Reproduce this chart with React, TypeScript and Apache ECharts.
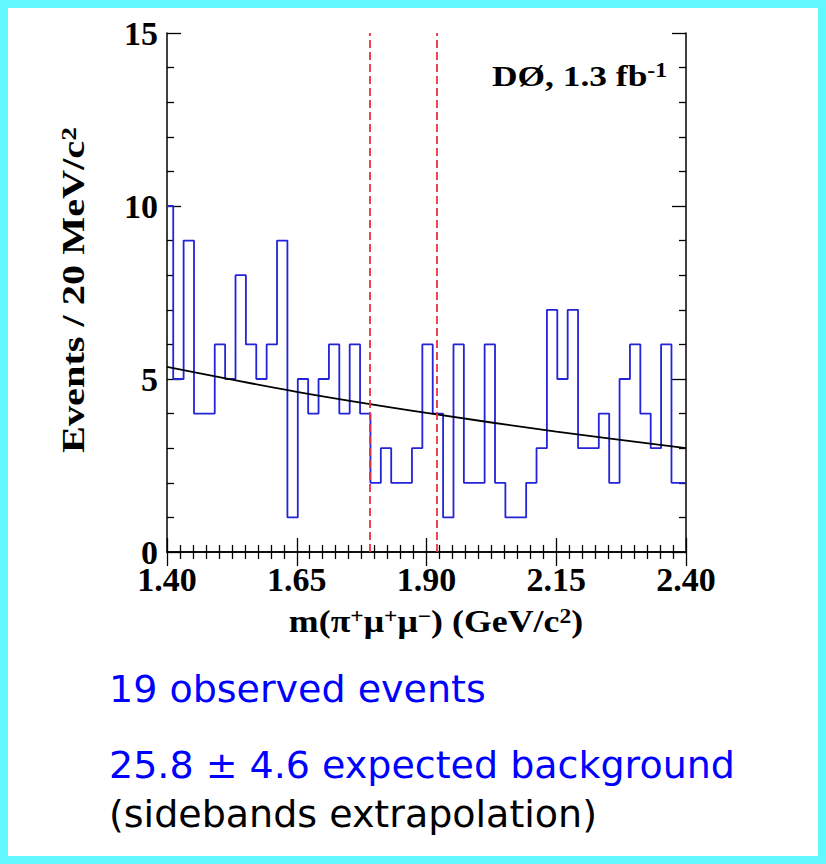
import React, { useEffect, useRef } from "react";
import * as echarts from "echarts";

// Histogram: events per 20 MeV/c^2 bin (bin lower edges start at 1.392, clipped to axis range)
const binStart = 1.392;
const binWidth = 0.02;
const counts = [
  10, 5, 9, 4, 4, 6, 5, 8, 6, 5,
  6, 9, 1, 5, 4, 5, 6, 4, 6, 4,
  2, 3, 2, 2, 3, 6, 4, 1, 6, 2,
  2, 6, 2, 1, 1, 2, 3, 7, 5, 7,
  3, 3, 4, 2, 5, 6, 4, 3, 6, 2,
  2,
];

// Background fit curve
const fitX = [1.4, 1.65, 1.9, 2.15, 2.4];
const fitY = [5.35, 4.63, 4.02, 3.48, 3.0];

// Signal window (red dashed lines)
const windowEdges = [1.786, 1.921];

const xMin = 1.4;
const xMax = 2.4;
const xTickStep = 0.25;
const yMin = 0;
const yMax = 15;
const yTickStep = 5;

const serif = "'Liberation Serif', 'Times New Roman', serif";
const sans = "'DejaVu Sans', sans-serif";

export default function App() {
  const ref = useRef<HTMLDivElement>(null);

  useEffect(() => {
    if (!ref.current) return;
    const chart = echarts.init(ref.current, undefined, { renderer: "svg" });

    const histData: number[][] = counts.map((c, i) => [
      Math.max(xMin, +(binStart + i * binWidth).toFixed(3)),
      c,
    ]);
    histData.push([xMax, counts[counts.length - 1]]);

    const fitData = fitX.map((x, i) => [x, fitY[i]]);

    const axisLine = { show: true, lineStyle: { color: "#000", width: 1.5 } };
    const tickStyle = { color: "#000", width: 1.3 };

    const xBase = {
      type: "value",
      min: xMin,
      max: xMax,
      interval: xTickStep,
      axisLine,
      axisTick: { show: true, inside: true, length: 14, lineStyle: tickStyle },
      minorTick: { show: true, splitNumber: 10, length: 7, lineStyle: tickStyle },
      splitLine: { show: false },
      minorSplitLine: { show: false },
    };
    const yBase = {
      type: "value",
      min: yMin,
      max: yMax,
      interval: yTickStep,
      axisLine,
      axisTick: { show: true, inside: true, length: 14, lineStyle: tickStyle },
      minorTick: { show: true, splitNumber: 5, length: 7, lineStyle: tickStyle },
      splitLine: { show: false },
      minorSplitLine: { show: false },
    };

    const labelFont = {
      fontSize: 34,
      fontWeight: "bold",
      fontFamily: serif,
      color: "#000",
    };

    const supStyle = (size: number) => ({
      fontSize: size,
      fontWeight: "bold",
      fontFamily: serif,
      fill: "#000",
      verticalAlign: "top",
    });

    chart.setOption({
      animation: false,
      backgroundColor: "#fff",
      grid: { left: 167, right: 140, top: 33, bottom: 312, containLabel: false },
      xAxis: [
        {
          ...xBase,
          position: "bottom",
          axisLabel: {
            ...labelFont,
            lineHeight: 26,
            margin: 14,
            formatter: (v: number) => v.toFixed(2),
          },
        },
        { ...xBase, position: "top", axisLabel: { show: false } },
      ],
      yAxis: [
        {
          ...yBase,
          position: "left",
          axisLabel: {
            ...labelFont,
            lineHeight: 22,
            margin: 9,
            padding: [0, 0, 8, 0],
          },
        },
        { ...yBase, position: "right", axisLabel: { show: false } },
      ],
      graphic: [
        {
          type: "rect",
          shape: { x: 4, y: 4, width: 818, height: 856 },
          style: { fill: "none", stroke: "#62F6FF", lineWidth: 8 },
          silent: true,
        },
        {
          type: "text",
          x: 74,
          y: 290,
          rotation: Math.PI / 2,
          scaleX: 1.3,
          style: {
            text: "Events / 20 MeV/c{s|2}",
            fontSize: 31,
            fontWeight: "bold",
            fontFamily: serif,
            fill: "#000",
            align: "center",
            verticalAlign: "middle",
            rich: { s: supStyle(21) },
          },
        },
        {
          type: "text",
          x: 436,
          y: 621,
          scaleX: 1.12,
          style: {
            text: "m(π{s|+}μ{s|+}μ{s|−}) (GeV/c{s|2})",
            fontSize: 32,
            fontWeight: "bold",
            fontFamily: serif,
            fill: "#000",
            align: "center",
            verticalAlign: "middle",
            rich: { s: supStyle(21) },
          },
        },
        {
          type: "text",
          x: 492,
          y: 76,
          scaleX: 1.18,
          style: {
            text: "DØ, 1.3 fb{s|-1}",
            fontSize: 30,
            fontWeight: "bold",
            fontFamily: serif,
            fill: "#000",
            align: "left",
            verticalAlign: "middle",
            rich: { s: supStyle(20) },
          },
        },
        {
          type: "text",
          x: 109,
          y: 689,
          style: {
            text: "19 observed events",
            fontSize: 38,
            fontFamily: sans,
            fill: "#0000FF",
            align: "left",
            verticalAlign: "middle",
          },
        },
        {
          type: "text",
          x: 109,
          y: 765,
          style: {
            text: "25.8 ± 4.6 expected background",
            fontSize: 38,
            fontFamily: sans,
            fill: "#0000FF",
            align: "left",
            verticalAlign: "middle",
          },
        },
        {
          type: "text",
          x: 109,
          y: 814,
          style: {
            text: "(sidebands extrapolation)",
            fontSize: 38,
            fontFamily: sans,
            fill: "#000",
            align: "left",
            verticalAlign: "middle",
          },
        },
      ],
      series: [
        {
          name: "Data",
          type: "line",
          step: "end",
          xAxisIndex: 0,
          yAxisIndex: 0,
          data: histData,
          symbol: "none",
          lineStyle: { color: "#2323D8", width: 1.8 },
          z: 3,
          markLine: {
            silent: true,
            symbol: ["none", "none"],
            label: { show: false },
            lineStyle: { color: "#E8323C", type: [8, 4], width: 1.8 },
            data: windowEdges.map((x) => ({ xAxis: x })),
          },
        },
        {
          name: "Fit",
          type: "line",
          xAxisIndex: 0,
          yAxisIndex: 0,
          data: fitData,
          smooth: 0.3,
          symbol: "none",
          lineStyle: { color: "#000", width: 1.8 },
          z: 4,
        },
      ],
    });

    return () => chart.dispose();
  }, []);

  return (
    <div
      style={{
        position: "absolute",
        left: 0,
        top: 0,
        width: 826,
        height: 864,
        background: "#fff",
      }}
    >
      <div ref={ref} style={{ width: 826, height: 864 }} />
    </div>
  );
}
